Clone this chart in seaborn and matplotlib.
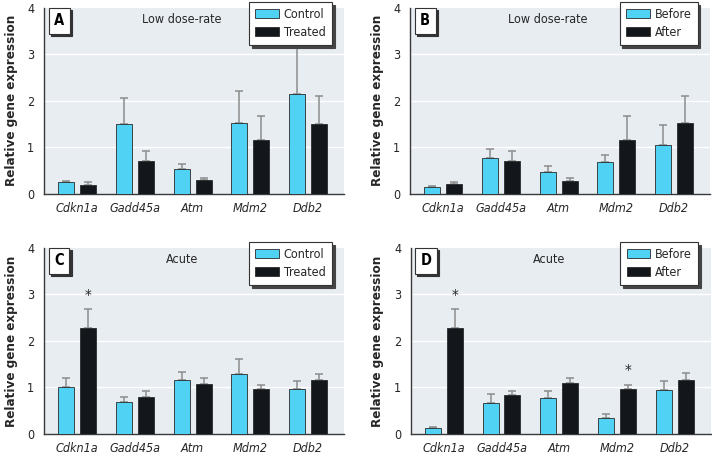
import numpy as np
import pandas as pd
import seaborn as sns
import matplotlib.pyplot as plt
import matplotlib.patches as mpatches
from matplotlib.transforms import offset_copy

genes = ["Cdkn1a", "Gadd45a", "Atm", "Mdm2", "Ddb2"]

# panel A: low dose-rate, control vs treated
a_control = [0.25, 1.50, 0.53, 1.52, 2.14]
a_control_err = [0.02, 0.56, 0.12, 0.68, 0.99]
a_treated = [0.20, 0.70, 0.29, 1.15, 1.51]
a_treated_err = [0.05, 0.22, 0.06, 0.53, 0.60]

# panel B: low dose-rate, before vs after
b_before = [0.14, 0.76, 0.47, 0.68, 1.05]
b_before_err = [0.02, 0.20, 0.12, 0.15, 0.43]
b_after = [0.21, 0.70, 0.27, 1.15, 1.52]
b_after_err = [0.04, 0.22, 0.07, 0.52, 0.58]

# panel C: acute, control vs treated
c_control = [1.00, 0.69, 1.17, 1.29, 0.97]
c_control_err = [0.21, 0.11, 0.16, 0.33, 0.16]
c_treated = [2.27, 0.80, 1.08, 0.97, 1.17]
c_treated_err = [0.41, 0.12, 0.12, 0.09, 0.13]

# panel D: acute, before vs after
d_before = [0.14, 0.66, 0.77, 0.35, 0.94]
d_before_err = [0.02, 0.19, 0.16, 0.07, 0.19]
d_after = [2.27, 0.83, 1.09, 0.97, 1.17]
d_after_err = [0.41, 0.09, 0.12, 0.09, 0.15]

CYAN = "#4fd2f4"
DARK = "#13171b"
BG = "#e8edf2"

sns.set_style("white")
plt.rcParams["font.family"] = ["DejaVu Sans"]
plt.rcParams["font.stretch"] = "condensed"


def draw_panel(ax, vals, errs, groups, letter, title, stars):
    df = pd.DataFrame({
        "gene": genes * 2,
        "group": [groups[0]] * len(genes) + [groups[1]] * len(genes),
        "value": vals[0] + vals[1],
    })
    sns.barplot(data=df, x="gene", y="value", hue="group", hue_order=groups,
                palette=[CYAN, DARK], saturation=1, width=0.76, gap=0.27,
                errorbar=None, edgecolor="#2a2a2a", linewidth=0.6,
                legend=False, ax=ax, zorder=3)

    # upper-only error bars on top of each bar
    for cont, err in zip(ax.containers, errs):
        xs = [p.get_x() + p.get_width() / 2 for p in cont.patches]
        hs = [p.get_height() for p in cont.patches]
        ax.errorbar(xs, hs, yerr=[np.zeros(len(err)), err], fmt="none",
                    ecolor="#8c8c8c", elinewidth=1.1, capsize=3, capthick=1.1,
                    zorder=2)

    for gi, hi in stars:
        p = ax.containers[hi].patches[gi]
        y = vals[hi][gi] + errs[hi][gi] + 0.28
        ax.text(p.get_x() + p.get_width() / 2, y, "*", ha="center", va="center",
                fontsize=11, zorder=5)

    ax.set_facecolor(BG)
    ax.set_ylim(0, 4)
    ax.set_xlim(-0.57, 4.62)
    ax.set_yticks([0, 1, 2, 3, 4])
    for y in [1, 2, 3]:
        ax.axhline(y, color="white", lw=1.0, zorder=1)
    sns.despine(ax=ax)
    for s in ["left", "bottom"]:
        ax.spines[s].set_color("#3a3a3a")
        ax.spines[s].set_linewidth(1.0)
    ax.tick_params(axis="both", length=0, labelsize=9)
    ax.tick_params(axis="x", pad=6)
    ax.tick_params(axis="y", pad=7)
    for t in ax.get_xticklabels():
        t.set_fontstyle("italic")
    ax.set_xlabel("")
    ax.set_ylabel("Relative gene expression", fontsize=9.6, fontweight="bold")
    ax.yaxis.set_label_coords(-0.088, 0.5)

    ax.text(0.46, 0.935, title, transform=ax.transAxes, ha="center",
            va="center", fontsize=9)

    # letter box with a drop shadow
    shadow = offset_copy(ax.transAxes, fig=ax.figure, x=1.5, y=-1.5, units="points")
    box = dict(boxstyle="square,pad=0.38", lw=0.8)
    ax.text(0.05, 0.93, letter, transform=shadow, ha="center", va="center",
            fontsize=10.5, fontweight="bold", color="#333",
            bbox=dict(box, fc="#333", ec="#333"), zorder=6)
    ax.text(0.05, 0.93, letter, transform=ax.transAxes, ha="center", va="center",
            fontsize=10.5, fontweight="bold", color="black",
            bbox=dict(box, fc="white", ec="#333"), zorder=7)

    handles = [mpatches.Patch(facecolor=CYAN, edgecolor="#2a2a2a", lw=0.6),
               mpatches.Patch(facecolor=DARK, edgecolor="#2a2a2a", lw=0.6)]
    leg = ax.legend(handles, groups, loc="upper right", bbox_to_anchor=(0.972, 1.052),
                    frameon=True, fancybox=False, shadow={"color": "#444", "alpha": 1},
                    fontsize=9, handlelength=1.9, handleheight=0.75,
                    handletextpad=0.4, borderpad=0.5, labelspacing=0.4,
                    borderaxespad=0.3)
    leg.get_frame().set_edgecolor("#333")
    leg.get_frame().set_linewidth(0.8)
    leg.set_zorder(8)


fig = plt.figure(figsize=(7.12, 4.54), dpi=100)
ax_a = fig.add_axes([0.062, 0.573, 0.421, 0.410])
ax_b = fig.add_axes([0.576, 0.573, 0.421, 0.410])
ax_c = fig.add_axes([0.062, 0.044, 0.421, 0.410])
ax_d = fig.add_axes([0.577, 0.044, 0.421, 0.410])

draw_panel(ax_a, [a_control, a_treated], [a_control_err, a_treated_err],
           ["Control", "Treated"], "A", "Low dose-rate", [])
draw_panel(ax_b, [b_before, b_after], [b_before_err, b_after_err],
           ["Before", "After"], "B", "Low dose-rate", [])
draw_panel(ax_c, [c_control, c_treated], [c_control_err, c_treated_err],
           ["Control", "Treated"], "C", "Acute", [(0, 1)])
draw_panel(ax_d, [d_before, d_after], [d_before_err, d_after_err],
           ["Before", "After"], "D", "Acute", [(0, 1), (3, 1)])

fig.savefig("out.png", dpi=100)
